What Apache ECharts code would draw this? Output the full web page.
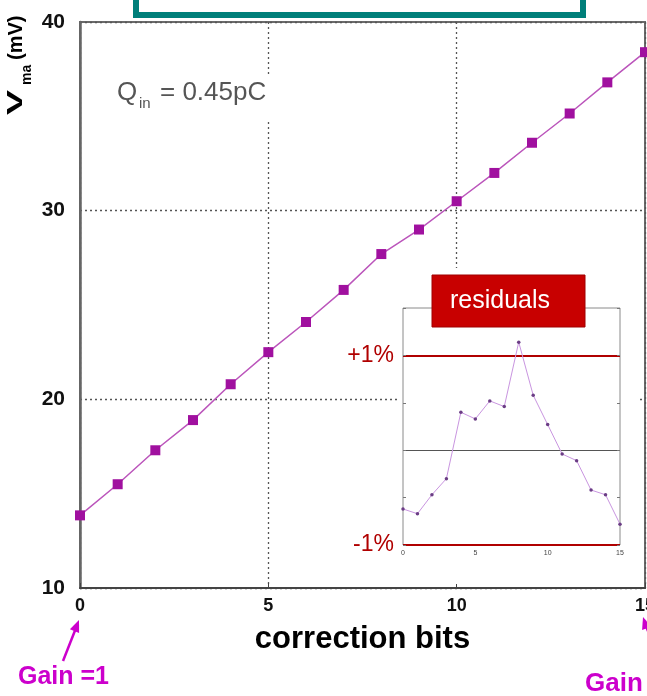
<!DOCTYPE html>
<html>
<head>
<meta charset="utf-8">
<script src="https://cdn.jsdelivr.net/npm/echarts@6/dist/echarts.min.js"></script>
<style>
  html, body { margin: 0; padding: 0; background: #fff; }
  #chart { width: 647px; height: 696px; }
</style>
</head>
<body>
<div id="chart"></div>
<script>
// Amplitude V_ma versus gain correction setting
const bits = [0, 1, 2, 3, 4, 5, 6, 7, 8, 9, 10, 11, 12, 13, 14, 15];
const vma = [13.85, 15.5, 17.3, 18.9, 20.8, 22.5, 24.1, 25.8, 27.7, 29.0, 30.5, 32.0, 33.6, 35.15, 36.8, 38.4];

// Residuals of the linear fit, in percent
const residuals = [-0.62, -0.67, -0.47, -0.30, 0.40, 0.33, 0.52, 0.46, 1.14, 0.58, 0.27, -0.04, -0.11, -0.42, -0.47, -0.78];

// Axis ranges and tick steps
const xTicks = { min: 0, max: 15, step: 5 };
const yTicks = { min: 10, max: 40, step: 10 };
const resTicks = { min: -1, max: 1.5, step: 0.5 };

// Reference levels drawn in the residual panel
const resLevels = [1, 0, -1];
const resLevelLabels = ['+1%', '', '-1%'];

const FONT = '"Liberation Sans", Arial, sans-serif';
const MAGENTA = '#cc00cc';
const DARK_RED = '#b00000';

const chart = echarts.init(document.getElementById('chart'), null, { renderer: 'canvas' });

const levelLines = resLevels.map((v, i) => {
  const isZero = v === 0;
  return {
    yAxis: v,
    lineStyle: isZero
      ? { color: '#555', width: 1, type: 'solid' }
      : { color: DARK_RED, width: 2.2, type: 'solid' },
    label: isZero
      ? { show: false }
      : {
          show: true, position: 'start', formatter: resLevelLabels[i],
          color: DARK_RED, fontSize: 23, fontFamily: FONT, distance: 9
        }
  };
});

const option = {
  animation: false,
  backgroundColor: '#fff',
  grid: [
    {
      left: 80, top: 22, right: 2, bottom: 108,
      show: true, borderColor: '#6a6a6a', borderWidth: 2,
      containLabel: false, outerBoundsMode: 'none'
    },
    {
      left: 403, top: 308, width: 217, height: 237,
      show: true, borderColor: '#8a8a8a', borderWidth: 1,
      containLabel: false, outerBoundsMode: 'none', z: 5
    }
  ],
  xAxis: [
    {
      gridIndex: 0, type: 'value',
      min: xTicks.min, max: xTicks.max, interval: xTicks.step,
      axisLine: { show: true, lineStyle: { color: '#444', width: 2 } },
      axisTick: { show: true, inside: true, length: 5, lineStyle: { color: '#444', width: 1 } },
      axisLabel: { fontSize: 18, fontWeight: 'bold', color: '#111', margin: 9, fontFamily: FONT },
      splitLine: { show: true, lineStyle: { type: [2, 3], color: '#555', width: 1.3 } },
      name: 'correction bits', nameLocation: 'middle', nameGap: 36,
      nameTextStyle: { fontSize: 31, fontWeight: 'bold', color: '#000', fontFamily: FONT }
    },
    {
      gridIndex: 1, type: 'value',
      min: xTicks.min, max: xTicks.max, interval: xTicks.step,
      axisLine: { show: false }, axisTick: { show: false },
      axisLabel: { fontSize: 7, color: '#444', margin: 5, fontFamily: FONT },
      splitLine: { show: false }, z: 5
    }
  ],
  yAxis: [
    {
      gridIndex: 0, type: 'value',
      min: yTicks.min, max: yTicks.max, interval: yTicks.step,
      axisLine: { show: true, lineStyle: { color: '#666', width: 2.5 } },
      axisTick: { show: false },
      axisLabel: { fontSize: 21, fontWeight: 'bold', color: '#111', margin: 15, fontFamily: FONT },
      splitLine: { show: true, lineStyle: { type: [2, 3], color: '#555', width: 1.3 } }
    },
    {
      gridIndex: 1, type: 'value',
      min: resTicks.min, max: resTicks.max, interval: resTicks.step,
      axisLine: { show: false },
      axisTick: { show: true, inside: true, length: 3, lineStyle: { color: '#777' } },
      axisLabel: { show: false }, splitLine: { show: false }, z: 5
    },
    {
      gridIndex: 1, type: 'value', position: 'right',
      min: resTicks.min, max: resTicks.max, interval: resTicks.step,
      axisLine: { show: false },
      axisTick: { show: true, inside: true, length: 3, lineStyle: { color: '#777' } },
      axisLabel: { show: false }, splitLine: { show: false }, z: 5
    }
  ],
  series: [
    {
      name: 'Vma', type: 'line',
      xAxisIndex: 0, yAxisIndex: 0,
      data: bits.map((b, i) => [b, vma[i]]),
      symbol: 'rect', symbolSize: 10,
      itemStyle: { color: '#a0109f' },
      lineStyle: { color: '#bb55bb', width: 1.5 },
      z: 3
    },
    {
      name: 'residuals', type: 'line',
      xAxisIndex: 1, yAxisIndex: 1,
      data: bits.map((b, i) => [b, residuals[i]]),
      symbol: 'circle', symbolSize: 3.5,
      itemStyle: { color: '#6b3d85' },
      lineStyle: { color: '#c995e0', width: 1 },
      z: 7,
      markLine: {
        silent: true, symbol: ['none', 'none'], animation: false,
        data: levelLines
      }
    }
  ],
  graphic: [
    // white panel behind the residual plot
    { type: 'rect', shape: { x: 398, y: 268, width: 242, height: 316 }, style: { fill: '#fff' }, z: 1 },
    // title frame at the top
    {
      type: 'rect', shape: { x: 136, y: -20, width: 447, height: 35 },
      style: { fill: '#fff', stroke: '#007f7a', lineWidth: 6 }, z: 10
    },
    // charge annotation
    { type: 'rect', shape: { x: 108, y: 74, width: 168, height: 48 }, style: { fill: '#fff' }, z: 1 },
    { type: 'text', x: 117, y: 93, style: { text: 'Q', font: '26px ' + FONT, fill: '#555', textVerticalAlign: 'middle' }, z: 2 },
    { type: 'text', x: 139, y: 104, style: { text: 'in', font: '15px ' + FONT, fill: '#555', textVerticalAlign: 'middle' }, z: 2 },
    { type: 'text', x: 160, y: 93, style: { text: '= 0.45pC', font: '26px ' + FONT, fill: '#555', textVerticalAlign: 'middle' }, z: 2 },
    // residual panel tag
    {
      type: 'rect', shape: { x: 432, y: 275, width: 153, height: 52 },
      style: { fill: '#c80000', stroke: '#a00000', lineWidth: 1 }, z: 8
    },
    {
      type: 'text', x: 500, y: 301,
      style: { text: 'residuals', font: '25px ' + FONT, fill: '#fff', textAlign: 'center', textVerticalAlign: 'middle' }, z: 9
    },
    // y axis title, rotated to read bottom-up
    { type: 'text', x: 16, y: 115, rotation: Math.PI / 2, scaleX: 1.7,
      style: { text: 'V', font: 'bold 22px ' + FONT, fill: '#000', textVerticalAlign: 'middle' }, z: 2 },
    { type: 'text', x: 27, y: 85, rotation: Math.PI / 2,
      style: { text: 'ma', font: 'bold 14px ' + FONT, fill: '#000', textVerticalAlign: 'middle' }, z: 2 },
    { type: 'text', x: 16, y: 60, rotation: Math.PI / 2,
      style: { text: '(mV)', font: 'bold 20px ' + FONT, fill: '#000', textVerticalAlign: 'middle' }, z: 2 },
    // gain annotations
    { type: 'text', x: 18, y: 677, style: { text: 'Gain =1', font: 'bold 25px ' + FONT, fill: MAGENTA, textVerticalAlign: 'middle' }, z: 2 },
    { type: 'line', shape: { x1: 63, y1: 661, x2: 76, y2: 628 }, style: { stroke: MAGENTA, lineWidth: 2.5 }, z: 2 },
    { type: 'polygon', shape: { points: [[79, 620], [79.1, 633], [69.9, 629.2]] }, style: { fill: MAGENTA }, z: 2 },
    { type: 'text', x: 585, y: 684, style: { text: 'Gain', font: 'bold 26px ' + FONT, fill: MAGENTA, textVerticalAlign: 'middle' }, z: 2 },
    { type: 'line', shape: { x1: 660, y1: 662, x2: 646, y2: 626 }, style: { stroke: MAGENTA, lineWidth: 2.5 }, z: 2 },
    { type: 'polygon', shape: { points: [[643, 617], [651.5, 626.8], [642.1, 630]] }, style: { fill: MAGENTA }, z: 2 }
  ]
};

chart.setOption(option);
</script>
</body>
</html>
